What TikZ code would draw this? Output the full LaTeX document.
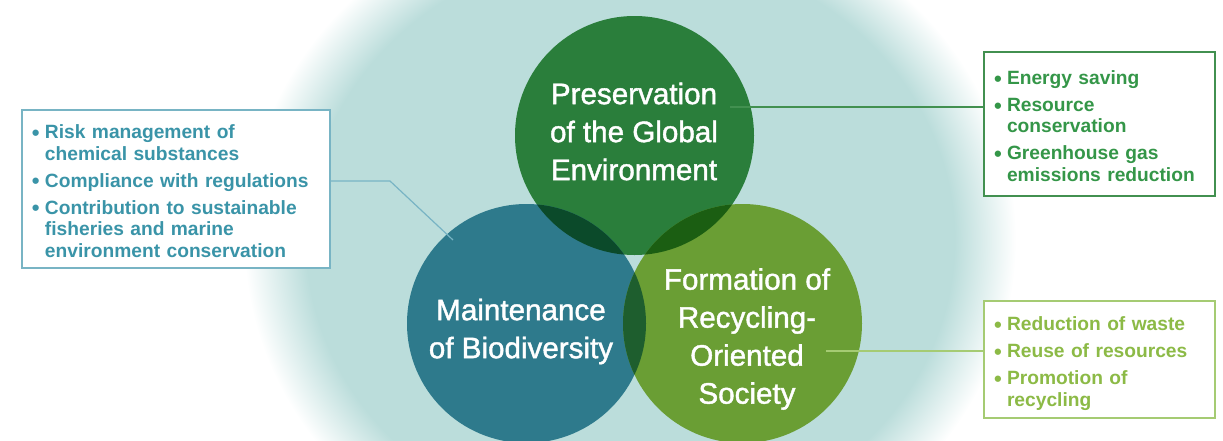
\documentclass[tikz,border=0pt]{standalone}
\usepackage{fontspec}
\setmainfont{Liberation Sans}
\newfontfamily\medfont[FakeBold=1.4]{Liberation Sans}
\usepackage{graphicx}
\usepackage{tikz}
\usetikzlibrary{positioning}
\tikzset{>=latex}

\definecolor{bgteal}{RGB}{187,221,219}
\definecolor{ctop}{RGB}{42,126,59}
\definecolor{cleft}{RGB}{46,122,140}
\definecolor{cright}{RGB}{106,158,52}
\definecolor{ovtl}{RGB}{11,74,42}
\definecolor{ovtr}{RGB}{27,94,18}
\definecolor{ovlr}{RGB}{30,94,46}
\definecolor{mtxt}{RGB}{58,148,168}
\definecolor{mline}{RGB}{120,180,196}
\definecolor{ptxt}{RGB}{52,150,72}
\definecolor{pline}{RGB}{66,144,80}
\definecolor{rtxt}{RGB}{140,186,70}
\definecolor{rline}{RGB}{165,203,115}

\pgfdeclareradialshading{glow}{\pgfpointorigin}{color(0bp)=(bgteal); color(21bp)=(bgteal); color(25bp)=(white); color(50bp)=(white)}

\newcommand{\bul}{\raisebox{-0.9pt}{\scalebox{1.15}{\textbullet}}}
\newcommand{\blist}[1]{\raisebox{-2.3pt}[\height][\depth]{\begin{tabular}{@{}p{6.5pt}@{}l@{}}#1\end{tabular}}}

\begin{document}
\begin{tikzpicture}[x=0.5pt, y=-0.5pt,
  blob/.style={circle, inner sep=0pt, minimum size=119.5pt},
  ctext/.style={text=white, align=center, font=\medfont\fontsize{14.8}{19}\selectfont},
  lbox/.style={draw, fill=white, line width=0.6pt, inner xsep=5pt, inner ysep=0pt, align=left, font=\bfseries\fontsize{9.6}{10.75}\selectfont},
  link/.style={line width=0.6pt}]
  \useasboundingbox (0,0) rectangle (1223,440);
  \clip (0,0) rectangle (1223,440);
  \shade[shading=glow] (630,240) ellipse [x radius=193pt, y radius=174pt];

  \node[blob, fill=ctop] (ptop) at (634.5,135.5) {};
  \node[blob, fill=cleft] (pleft) at (526.5,323.5) {};
  \node[blob, fill=cright] (pright) at (742.5,323.5) {};
  \begin{scope}
    \clip (ptop.center) circle (59.75pt);
    \fill[ovtl] (pleft.center) circle (59.75pt);
    \fill[ovtr] (pright.center) circle (59.75pt);
  \end{scope}
  \begin{scope}
    \clip (pleft.center) circle (59.75pt);
    \fill[ovlr] (pright.center) circle (59.75pt);
  \end{scope}

  \node[ctext] (ltop) at (634,131.5) {Preservation\\of the Global\\Environment};
  \node[ctext] (lleft) at (521,331.5) {Maintenance\\of Biodiversity};
  \node[ctext] (lright) at (747,339) {Formation of\\Recycling-\\Oriented\\Society};

  \node[lbox, draw=mline, text=mtxt, text width=144pt, minimum height=79pt] (mbox) at (176,189) {\blist{%
      \bul & Risk management of\\ & chemical substances\\[2.75pt]
      \bul & Compliance with regulations\\[2.75pt]
      \bul & Contribution to sustainable\\ & fisheries and marine\\ & environment conservation}};
  \node[lbox, draw=pline, text=ptxt, text width=105.5pt, minimum height=72pt] (pbox) at (1099.5,124) {\blist{%
      \bul & Energy saving\\[2.75pt]
      \bul & Resource\\ & conservation\\[2.75pt]
      \bul & Greenhouse gas\\ & emissions reduction}};
  \node[lbox, draw=rline, text=rtxt, text width=105.5pt, minimum height=58.5pt] (rbox) at (1099.5,359.5) {\blist{%
      \bul & Reduction of waste\\[2.75pt]
      \bul & Reuse of resources\\[2.75pt]
      \bul & Promotion of\\ & recycling}};

  \coordinate (mk) at (390,181);
  \coordinate (me) at (453,240);
  \coordinate (ps) at (730,107);
  \coordinate (rs) at (826,351);
  \draw[link, mline] (mbox.east |- mk) -- (mk) -- (me);
  \draw[link, pline] (ps) -- (pbox.west |- ps);
  \draw[link, rline] (rs) -- (rbox.west |- rs);
\end{tikzpicture}
\end{document}
